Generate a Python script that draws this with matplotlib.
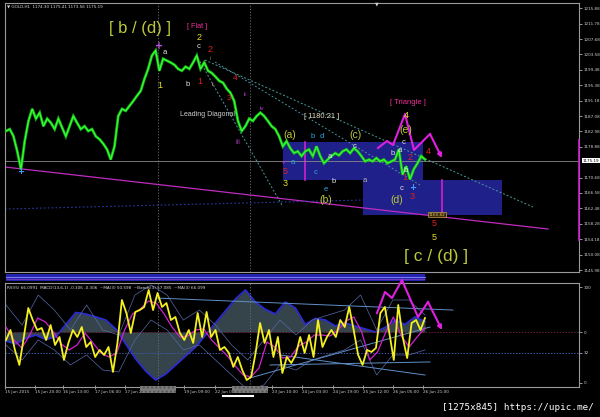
import numpy as np
import matplotlib
matplotlib.use("Agg")
import matplotlib.pyplot as plt
from matplotlib.patches import Rectangle
from matplotlib.transforms import blended_transform_factory as blend

# ---------------- data ----------------
close = [1183.1, 1183.6, 1181.7, 1177.7, 1172.9, 1180.4, 1185.8, 1189.0, 1186.4, 1188.0,
         1184.4, 1186.4, 1185.3, 1183.6, 1186.4, 1184.0, 1181.7, 1184.4, 1187.1, 1185.3,
         1183.6, 1184.4, 1183.1, 1183.6, 1181.7, 1180.9, 1179.7, 1178.2, 1175.5, 1179.0,
         1187.1, 1189.0, 1188.5, 1189.8, 1191.1, 1192.5, 1193.8, 1197.0, 1199.7, 1203.25,
         1204.6, 1199.2, 1202.4, 1201.9, 1201.4, 1200.8, 1199.7, 1199.2, 1200.3, 1199.7,
         1201.4, 1203.25, 1199.7, 1201.4, 1199.2, 1198.6, 1197.6, 1196.5, 1196.0, 1194.4,
         1193.3, 1191.1, 1185.8, 1183.1, 1184.4, 1186.4, 1185.8, 1187.1, 1188.0, 1187.1,
         1185.8, 1184.4, 1183.6, 1181.7, 1179.0, 1180.4, 1178.5, 1177.2, 1177.7, 1176.4,
         1177.7, 1178.2, 1176.4, 1179.0, 1176.4, 1174.5, 1175.5, 1176.4, 1177.2, 1176.6,
         1177.7, 1178.2, 1177.2, 1178.5, 1177.7, 1176.4, 1175.0, 1175.5, 1175.0, 1175.9,
         1175.0, 1175.5, 1174.5, 1175.0, 1175.5, 1178.2, 1171.5, 1173.7, 1170.2, 1172.9,
         1174.5, 1176.4, 1175.5]

rsi = [44.8, 55.2, 34.4, 18.8, 47.9, 78.1, 65.6, 55.2, 57.3, 44.8, 60.4, 39.6, 47.9, 24.0,
       41.7, 55.2, 47.9, 58.3, 37.5, 42.7, 27.1, 34.4, 29.2, 37.5, 11.5, 41.7, 86.5, 72.9,
       52.1, 74.0, 76.0, 79.2, 96.9, 76.0, 93.8, 79.2, 83.3, 65.6, 68.8, 52.1, 44.8, 55.2,
       41.7, 72.9, 47.9, 74.0, 47.9, 55.2, 34.4, 37.5, 31.3, 16.7, 27.1, 13.5, 3.1, 6.3,
       31.3, 62.5, 41.7, 55.2, 27.1, 47.9, 10.4, 27.1, 20.8, 29.2, 47.9, 31.3, 50.0, 27.1,
       65.6, 37.5, 47.9, 55.2, 47.9, 65.6, 58.3, 79.2, 55.2, 29.2, 18.8, 34.4, 32.3, 36.5,
       72.9, 79.2, 52.1, 24.0, 81.3, 47.9, 26.0, 62.5, 65.6, 55.2, 67.7]

rsi_ma = [58.3, 44.8, 36.5, 50.0, 67.7, 63.5, 53.1, 40.6, 34.4, 39.6, 52.1, 41.7, 31.3, 27.1,
          31.3, 55.2, 71.9, 77.1, 85.4, 83.3, 71.9, 58.3, 47.9, 49.0, 55.2, 56.3, 44.8, 36.5,
          28.1, 17.7, 8.3, 6.3, 15.6, 42.7, 37.5, 26.0, 27.1, 38.5, 42.7, 50.0, 50.0, 49.0,
          55.2, 64.6, 68.8, 53.1, 24.0, 32.3, 52.1, 68.8, 49.0, 37.5, 47.9, 57.3]

band_up = [81.3, 60.4, 91.7, 76.0, 55.2, 81.3, 55.2, 50.0, 91.7, 102.1, 91.7, 65.6, 76.0, 60.4,
           39.6, 24.0, 44.8, 65.6, 50.0, 65.6, 70.8, 76.0, 91.7, 55.2, 86.5, 86.5, 70.8]
band_dn = [39.6, 24.0, 44.8, 34.4, 18.8, 29.2, 13.5, 11.5, 44.8, 65.6, 55.2, 34.4, 39.6, 24.0,
           8.3, -7.3, -2.1, 18.8, 13.5, 24.0, 29.2, 34.4, 44.8, 8.3, 29.2, 29.2, 34.4]

macd_hist = [-0.6, -0.8, -0.4, -0.2, -0.5, -0.3, 0.5, 1.3, 1.2, 1.0, 0.8, 0.2, -0.8, -1.8,
             -2.6, -3.2, -2.8, -2.2, -1.6, -1.0, -0.2, 0.6, 1.4, 2.2, 2.8, 2.0, 1.5, 1.2,
             2.0, 1.6, 0.5, 0.9, 0.8, 0.4, 0.6, 0.4, 0.2, 0.0, 0.3, 0.8, 0.5, 1.0, 0.7]

price_ticks = [1215.88, 1211.78, 1207.68, 1203.58, 1199.48, 1195.38, 1191.18, 1187.08,
               1182.98, 1178.88, 1170.68, 1166.58, 1162.48, 1158.28, 1154.18, 1150.08, 1145.98]
last_price = 1175.19
price_range = [1145.45, 1217.30]
bar_range = [-0.27, 153.17]

time_bars = [-0.27, 7.75, 15.24, 23.79, 31.81, 47.58, 55.87, 71.1, 79.12, 87.41, 95.43,
             103.45, 111.47]
time_labels = ["15 Jun 2015", "15 Jun 20:00", "16 Jun 13:00", "17 Jun 06:00", "17 Jun 23:00",
               "19 Jun 09:00", "22 Jun 02:00", "23 Jun 10:00", "24 Jun 03:00", "24 Jun 19:00",
               "25 Jun 12:00", "26 Jun 05:00", "26 Jun 21:00"]
sep_bars = [40.63, 65.22]
sep_width = 9.6

osc_ticks = [100, 53.1, 31.3, 0]
osc_labels = ["100", "0", "32", "0"]
osc_range = [-4.2, 104.2]
macd_range = [-3.667, 3.267]

# analyst drawings (bar index, price)
box1_bars = [74.04, 111.47]
box1_prices = [1170.0, 1180.21]
box2_bars = [95.43, 132.58]
box2_prices = [1160.8, 1170.0]
box_marks_bars = [79.93, 116.55]
trend_bars = [-0.27, 144.88]
trend_prices = [1173.49, 1156.93]
dot1_bars = [53.19, 140.87]
dot1_prices = [1202.07, 1162.81]
dot2_bars = [55.87, 110.67]
dot2_prices = [1201.54, 1168.68]
dot3_bars = [51.32, 74.04]
dot3_prices = [1202.6, 1162.81]
dot4_bars = [-0.27, 95.43]
dot4_prices = [1162.27, 1164.68]
tri_bars = [99.44, 101.84, 103.45, 106.66, 109.06, 113.34, 116.55]
tri_prices = [1178.57, 1180.44, 1179.37, 1187.65, 1178.03, 1182.31, 1175.9]
tri2_bars = [99.17, 101.31, 103.18, 105.85, 110.13, 112.8, 116.55]
tri2_vals = [72.9, 94.8, 88.5, 107.3, 68.75, 84.4, 55.2]
osc_lines = [([40.36, 119.49], [88.5, 76.0]),
             ([65.22, 113.34], [5.2, 58.3]),
             ([70.57, 113.34], [18.75, 21.9]),
             ([73.24, 112.0], [29.2, 8.3])]
right_mark_prices = [1180.7, 1153.99]
box_label_bar = 115.3

# ---------------- figure ----------------
W, H = 600, 417
fig = plt.figure(figsize=(6, 4.17), dpi=100, facecolor="black")


def fpx(x0, y0, x1, y1):
    return [x0 / W, 1 - y1 / H, (x1 - x0) / W, (y1 - y0) / H]


GRID = "#9a9a9a"
TXT = "#cfcfcf"

ax = fig.add_axes(fpx(5, 3, 579, 272), facecolor="black")
ax.set_xlim(*bar_range)
ax.set_ylim(*price_range)
for s in ax.spines.values():
    s.set_color(GRID)
    s.set_linewidth(0.8)
ax.yaxis.tick_right()
ax.set_yticks(price_ticks)
ax.set_yticklabels([f"{p:.2f}" for p in price_ticks])
ax.tick_params(axis="y", labelsize=3, colors=TXT, length=2, width=0.5, pad=1.5)
ax.tick_params(axis="x", bottom=False, labelbottom=False)

for sb in sep_bars:
    ax.axvline(sb, color="#707070", lw=0.6, ls=(0, (1.5, 2)), zorder=1)

# boxes
ax.add_patch(Rectangle((box1_bars[0], box1_prices[0]), box1_bars[1] - box1_bars[0],
                       box1_prices[1] - box1_prices[0], facecolor="#20208a", edgecolor="none", zorder=1))
ax.add_patch(Rectangle((box2_bars[0], box2_prices[0]), box2_bars[1] - box2_bars[0],
                       box2_prices[1] - box2_prices[0], facecolor="#20208a", edgecolor="none", zorder=1))
ax.plot([box_marks_bars[0]] * 2, box1_prices, color="#d020d0", lw=1.2, zorder=2)
ax.plot([box_marks_bars[1]] * 2, box2_prices, color="#d020d0", lw=1.2, zorder=2)
ax.text(box_label_bar, box2_prices[0], f"{box2_prices[0]+0.02:.2f}", fontsize=3, color="#e0c060",
        ha="center", va="center", zorder=4,
        bbox=dict(facecolor="#3a2a10", edgecolor="#c8a040", pad=0.4, lw=0.5))

# trend lines
ax.plot(trend_bars, trend_prices, color="#c02cc0", lw=0.9, zorder=2)
dots = (0, (2, 2))
ax.plot(dot1_bars, dot1_prices, color="#4a9a9a", lw=0.7, ls=dots, zorder=2)
ax.plot(dot2_bars, dot2_prices, color="#4a8a9a", lw=0.7, ls=dots, zorder=2)
ax.plot(dot3_bars, dot3_prices, color="#4a9a9a", lw=0.7, ls=dots, zorder=2)
ax.plot(dot4_bars, dot4_prices, color="#2a3aa0", lw=0.8, ls=(0, (1.5, 2)), zorder=2)

# current price line
ax.axhline(last_price, color="#8a8a8a", lw=0.6, zorder=2)

# price
xb = np.arange(len(close))
ax.plot(xb, close, color="#14b814", lw=2.0, zorder=3, solid_joinstyle="miter")
ax.plot(xb, close, color="#3cff3c", lw=0.8, zorder=3)

# triangle zigzag
ax.plot(tri_bars[:-1], tri_prices[:-1], color="#e020e0", lw=1.5, zorder=5)
ax.annotate("", xy=(tri_bars[-1], tri_prices[-1]), xytext=(tri_bars[-2], tri_prices[-2]),
            arrowprops=dict(arrowstyle="-|>", color="#e020e0", lw=1.5, mutation_scale=6,
                            shrinkA=0, shrinkB=0), zorder=5)

# right axis marker + price label
bt = blend(ax.transAxes, ax.transData)
ax.plot([1.0, 1.0], right_mark_prices, color="#d020d0", lw=1.2, transform=bt, clip_on=False, zorder=6)
ax.text(1.006, last_price, f"{last_price:.2f}", transform=bt, fontsize=3, color="black",
        ha="left", va="center", clip_on=False,
        bbox=dict(facecolor="white", edgecolor="none", pad=0.4))

# ---- small strip panel ----
axs = fig.add_axes(fpx(5, 273.5, 579, 281), facecolor="black")
axs.set_xlim(*bar_range)
axs.set_ylim(0, 1)
axs.axis("off")
axs.fill_between([0, len(close) - 1], 0, 1, color="#2424b0", lw=0)
axs.plot([0, len(close) - 1], [0.55, 0.55], color="#7a7af0", lw=0.8)
axs.plot([0, len(close) - 1], [0.3, 0.3], color="#a050c0", lw=0.4)

# ---- oscillator panel ----
ax2 = fig.add_axes(fpx(5, 283, 579, 387), facecolor="none")
ax3 = ax2.twinx()
ax3.set_ylim(*macd_range)
ax3.set_xlim(*bar_range)
ax3.axis("off")
ax2.set_zorder(ax3.get_zorder() + 1)
ax2.patch.set_visible(False)
ax2.set_xlim(*bar_range)
ax2.set_ylim(*osc_range)
for s in ax2.spines.values():
    s.set_color(GRID)
    s.set_linewidth(0.8)

xm = np.linspace(0, len(close) - 1, len(macd_hist))
ax3.fill_between(xm, 0, macd_hist, color="#34444a", lw=0)
ax3.plot(xm, macd_hist, color="#2b2bd0", lw=1.3)

for sb in sep_bars:
    ax2.axvline(sb, color="#707070", lw=0.6, ls=(0, (1.5, 2)), zorder=1)
ax2.axhline(osc_ticks[1], color="#6a2040", lw=0.7, ls=(0, (1.5, 1.5)), zorder=1)
ax2.axhline(osc_ticks[2], color="#3a5aa8", lw=0.7, ls=(0, (1.5, 1.5)), zorder=1)

xband = np.linspace(0, len(close) - 1, len(band_up))
ax2.plot(xband, band_up, color="#5868a8", lw=0.5, zorder=2)
ax2.plot(xband, band_dn, color="#5868a8", lw=0.5, zorder=2)
for lb, lv in osc_lines:
    ax2.plot(lb, lv, color="#5f8fc8", lw=0.7, zorder=2)

xma = np.linspace(0, len(close) - 1, len(rsi_ma))
ax2.plot(xma, rsi_ma, color="#d020d0", lw=0.9, zorder=3)
xr = np.linspace(0, len(close) - 1, len(rsi))
ax2.plot(xr, rsi, color="#f4f020", lw=1.3, zorder=4)

ax2.plot(tri2_bars[:-1], tri2_vals[:-1], color="#e020e0", lw=1.5, zorder=5, clip_on=False)
ax2.annotate("", xy=(tri2_bars[-1], tri2_vals[-1]), xytext=(tri2_bars[-2], tri2_vals[-2]),
             arrowprops=dict(arrowstyle="-|>", color="#e020e0", lw=1.5, mutation_scale=6,
                             shrinkA=0, shrinkB=0), zorder=5)

ax2.yaxis.tick_right()
ax2.set_yticks(osc_ticks)
ax2.set_yticklabels(osc_labels)
ax2.tick_params(axis="y", labelsize=3, colors=TXT, length=2, width=0.5, pad=1.5)
ax2.set_xticks(time_bars)
ax2.set_xticklabels(time_labels, ha="left")
ax2.tick_params(axis="x", labelsize=3, colors=TXT, length=3, width=0.5, direction="inout", pad=0.5)

# grey separator date boxes on the time axis (hatched like the unreadable label)
bt2 = blend(ax2.transData, ax2.transAxes)
for sb in sep_bars:
    ax2.add_patch(Rectangle((sb - sep_width / 2, -0.058), sep_width, 0.066, transform=bt2,
                            facecolor="#7c7c7c", edgecolor="#555555", hatch="....", lw=0,
                            clip_on=False, zorder=6))

# ---------------- texts ----------------
def T(px, py, s, color, size, family="Liberation Sans", **kw):
    fig.text(px / W, 1 - py / H, s, color=color, fontsize=size, ha="center", va="center",
             family=family, **kw)


YG, YL, RD, WH, CY = "#bcc83a", "#e6e020", "#e02020", "#e6e6e6", "#2aa8e8"
PK, PU, MG = "#f0309a", "#a838b8", "#e020e0"

notes = [
    (140, 29, "[ b / (d) ]", YG, 12), (197, 27, "[ Flat ]", PK, 5.2),
    (199, 38, "2", YL, 6.5), (199, 47, "c", WH, 5.5), (210, 49, "2", RD, 6.5),
    (165, 52, "a", WH, 5.5), (160, 85, "1", YL, 6.5), (188, 84, "b", WH, 5.5),
    (200, 81, "1", RD, 6.5), (213, 84, "ii", "#a08050", 4), (210, 59, "i", "#a08050", 4),
    (235, 78, "4", RD, 6), (229, 98, "3", RD, 6), (245, 95, "ii", PU, 4.5),
    (262, 108, "iv", PU, 4.5), (238, 143, "iii", PU, 5),
    (208, 115, "Leading Diagonal", "#d0d0d0", 5),
    (290, 135, "(a)", YG, 7.5), (322, 117, "[ 1180.21 ]", "#e8e0c0", 5.5),
    (408, 102, "[ Triangle ]", PK, 5.5), (406, 115, "4", YL, 6.5), (406, 130, "(e)", YG, 7.5),
    (313, 137, "b", CY, 5.5), (322, 136, "d", CY, 5.5), (355, 135, "(c)", YG, 7.5),
    (355, 146, "c", WH, 5.5), (330, 157, "a", WH, 5.5), (316, 172, "c", CY, 5.5),
    (334, 182, "b", WH, 5.5), (326, 189, "e", CY, 5.5), (326, 200, "(b)", YG, 7.5),
    (365, 181, "a", "#b0b0b0", 5.5), (397, 200, "(d)", YG, 7.5), (404, 142, "c", WH, 5.5),
    (393, 154, "b", WH, 5.5), (400, 151, "a", WH, 5.5), (410, 158, "2", RD, 6.5),
    (406, 170, "b", WH, 5.5), (405, 177, "1", RD, 6.5), (402, 188, "c", WH, 5.5),
    (412, 197, "3", RD, 6.5), (428, 152, "4", RD, 6.5), (434, 224, "5", RD, 6.5),
    (434, 238, "5", YL, 6.5), (436, 257, "[ c / (d) ]", YG, 12.5),
    (293, 163, "a", CY, 5.5), (284, 163, "v", MG, 4.5), (285, 172, "5", RD, 6.5),
    (285, 184, "3", YL, 6.5),
]
for px, py, s, c, sz in notes:
    T(px, py, s, c, sz)

T(159, 46, "+", "#c050e0", 7, family="DejaVu Sans", weight="bold")
T(21, 171, "+", "#40a0ff", 6, family="DejaVu Sans", weight="bold")
T(413, 187, "+", "#40a0ff", 6, family="DejaVu Sans", weight="bold")
T(377, 4, "▼", "#d0d0d0", 3.5, family="DejaVu Sans")

fig.text(7 / W, 1 - 6 / H, "▼ GOLD,H1  1174.30 1175.41 1173.56 1175.19", fontsize=3,
         color="#d8d8d8", ha="left", va="center")
fig.text(7 / W, 1 - 288 / H,
         "RSI(5) 66.0991  MACD(13,6,1) -0.306 -0.306  ~MA(3) 50.598  ~Bands(3) 57.085  ~MA(3) 66.099",
         fontsize=3, color="#d8d8d8", ha="left", va="center")

fig.add_artist(plt.Line2D([223 / W, 253 / W], [1 - 396 / H] * 2, color="white", lw=1.5))
fig.text(594 / W, 1 - 407 / H, "[1275x845] https://upic.me/", fontsize=6.7,
         family="DejaVu Sans Mono", color="white", ha="right", va="center")

fig.savefig("out.png", dpi=100, facecolor="black")
